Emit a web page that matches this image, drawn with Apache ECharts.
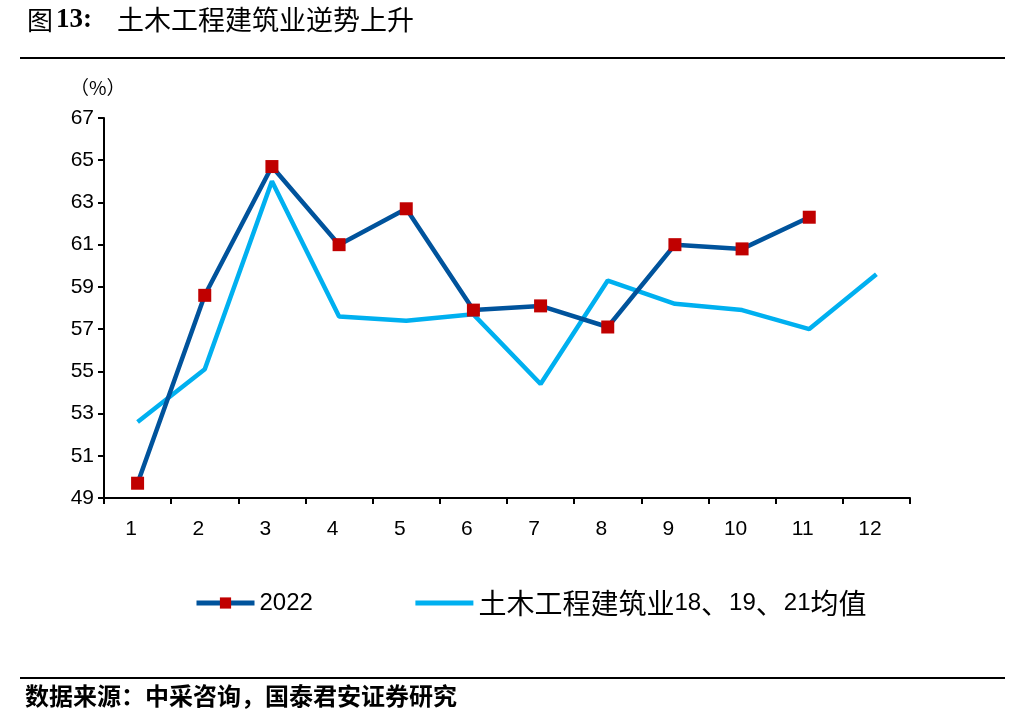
<!DOCTYPE html>
<html>
<head>
<meta charset="utf-8">
<script src="https://cdn.jsdelivr.net/npm/echarts@6/dist/echarts.min.js"></script>
<style>html,body{margin:0;padding:0;background:#fff;}#c{width:1015px;height:725px;}</style>
</head>
<body>
<div id="c"></div>
<script>
var months = ['1','2','3','4','5','6','7','8','9','10','11','12'];
var series2022 = [49.7, 58.6, 64.7, 61.0, 62.7, 57.9, 58.1, 57.1, 61.0, 60.8, 62.3];
var seriesAvg = [52.6, 55.1, 64.0, 57.6, 57.4, 57.7, 54.4, 59.3, 58.2, 57.9, 57.0, 59.6];
var yTicks = [49, 51, 53, 55, 57, 59, 61, 63, 65, 67];
var name2022 = '2022';
var nameAvg = '土木工程建筑业18、19、21均值';

var cjk = '"Noto Sans CJK SC", sans-serif';
var latin = '"Liberation Sans", Arial, sans-serif';

function richName(name) {
  return name.replace(/([\x00-\x7f]+)|([^\x00-\x7f]+)/g, function (m, a, b) {
    return a ? '{d|' + a + '}' : '{c|' + b + '}';
  });
}

var chart = echarts.init(document.getElementById('c'), null, {renderer: 'canvas'});
chart.setOption({
  backgroundColor: '#fff',
  animation: false,
  grid: {left: 104, right: 105, top: 118, bottom: 227, containLabel: false, outerBoundsMode: 'none'},
  xAxis: {
    type: 'category',
    data: months,
    boundaryGap: true,
    axisLine: {lineStyle: {color: '#000', width: 2}},
    axisTick: {show: true, length: 6, lineStyle: {color: '#000', width: 2}},
    axisLabel: {color: '#000', fontSize: 21, fontFamily: latin, margin: 21, padding: [0, 13, 0, 0]}
  },
  yAxis: {
    type: 'value',
    min: 49,
    max: 67,
    axisLine: {show: true, lineStyle: {color: '#000', width: 2}},
    axisTick: {show: true, length: 6, lineStyle: {color: '#000', width: 2}, customValues: yTicks},
    axisLabel: {color: '#000', fontSize: 21, fontFamily: latin, margin: 10, customValues: yTicks},
    splitLine: {show: false}
  },
  legend: {
    left: 189,
    top: 584,
    itemGap: 100,
    itemWidth: 58,
    itemHeight: 14,
    itemTextGap: 7,
    lineStyle: {width: 5},
    formatter: richName,
    textStyle: {
      color: '#000',
      rich: {
        d: {fontSize: 24, fontFamily: latin, color: '#000'},
        c: {fontSize: 28, fontFamily: cjk, color: '#000'}
      }
    },
    data: [{name: name2022}, {name: nameAvg, itemStyle: {opacity: 0}}]
  },
  series: [
    {
      name: name2022,
      type: 'line',
      data: series2022,
      symbol: 'rect',
      symbolSize: 13,
      lineStyle: {color: '#00539C', width: 4.5},
      itemStyle: {color: '#C00000'},
      z: 3
    },
    {
      name: nameAvg,
      type: 'line',
      data: seriesAvg,
      symbol: 'none',
      lineStyle: {color: '#00B0F0', width: 4.5},
      itemStyle: {color: '#00B0F0'},
      z: 2
    }
  ],
  graphic: [
    {type: 'text', left: 27, top: 7, style: {text: '图', font: '26px ' + cjk, fill: '#000'}},
    {type: 'text', left: 56, top: 7, style: {text: '13:', font: 'bold 27px "Liberation Serif", serif', fill: '#000'}},
    {type: 'text', left: 117, top: 6, style: {text: '土木工程建筑业逆势上升', font: '27px ' + cjk, fill: '#000'}},
    {type: 'line', shape: {x1: 20, y1: 58, x2: 1005, y2: 58}, style: {stroke: '#000', lineWidth: 2}},
    {type: 'text', left: 70, top: 78, style: {text: '（%）', font: '19px ' + cjk, fill: '#000'}},
    {type: 'line', shape: {x1: 20, y1: 678, x2: 1005, y2: 678}, style: {stroke: '#000', lineWidth: 2}},
    {type: 'text', left: 25, top: 684, style: {text: '数据来源：中采咨询，国泰君安证券研究', font: 'bold 24px ' + cjk, fill: '#000'}}
  ]
});
</script>
</body>
</html>
